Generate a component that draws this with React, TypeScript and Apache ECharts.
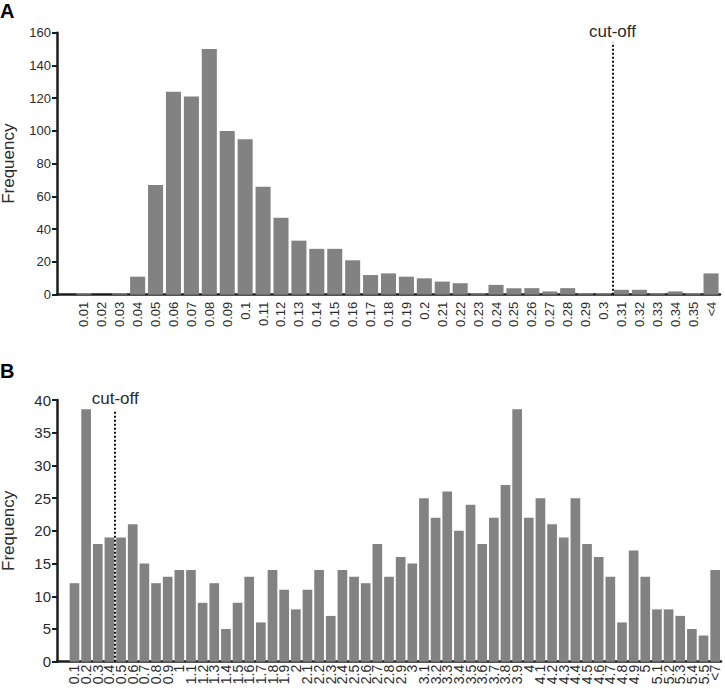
import React, { useEffect, useRef } from "react";
import * as echarts from "echarts";

const FONT = "'Liberation Sans', Arial, Helvetica, sans-serif";

// Panel A
const catsA = [
  "0.01", "0.02", "0.03", "0.04", "0.05", "0.06", "0.07", "0.08", "0.09", "0.1",
  "0.11", "0.12", "0.13", "0.14", "0.15", "0.16", "0.17", "0.18", "0.19", "0.2",
  "0.21", "0.22", "0.23", "0.24", "0.25", "0.26", "0.27", "0.28", "0.29", "0.3",
  "0.31", "0.32", "0.33", "0.34", "0.35", "<4",
];
const valsA = [
  1, 0, 1, 11, 67, 124, 121, 150, 100, 95,
  66, 47, 33, 28, 28, 21, 12, 13, 11, 10,
  8, 7, 1, 6, 4, 4, 2, 4, 1, 1,
  3, 3, 1, 2, 1, 13,
];
const yTicksA = { min: 0, max: 160, step: 20 };
// cut-off sits after "0.3" (band boundary after 30 categories + 1 leading blank)
const cutoffA = { afterCategory: "0.3", top: 154 };

// Panel B
const catsB = [
  "0.1", "0.2", "0.3", "0.4", "0.5", "0.6", "0.7", "0.8", "0.9", "1",
  "1.1", "1.2", "1.3", "1.4", "1.5", "1.6", "1.7", "1.8", "1.9", "2",
  "2.1", "2.2", "2.3", "2.4", "2.5", "2.6", "2.7", "2.8", "2.9", "3",
  "3.1", "3.2", "3.3", "3.4", "3.5", "3.6", "3.7", "3.8", "3.9", "4",
  "4.1", "4.2", "4.3", "4.4", "4.5", "4.6", "4.7", "4.8", "4.9", "5",
  "5.1", "5.2", "5.3", "5.4", "5.5", "<7",
];
const valsB = [
  12, 38.6, 18, 19, 19, 21, 15, 12, 13, 14,
  14, 9, 12, 5, 9, 13, 6, 14, 11, 8,
  11, 14, 7, 14, 13, 12, 18, 13, 16, 15,
  25, 22, 26, 20, 24, 18, 22, 27, 38.6, 22,
  25, 21, 19, 25, 18, 16, 13, 6, 17, 13,
  8, 8, 7, 5, 4, 14,
];
const yTicksB = { min: 0, max: 40, step: 5 };
const cutoffB = { afterCategory: "0.4", top: 38.5 };

const AXIS_COLOR = "#1c1c1c";
const TEXT_COLOR = "#2b2b2b";
const BAR_COLOR = "#828282";

function cutoffSeries(cats: string[], cut: { afterCategory: string; top: number }, xIdx: number, yIdx: number) {
  const pos = cats.indexOf(cut.afterCategory) + 2; // +1 leading blank band, +1 to reach band's right edge
  return {
    type: "line",
    xAxisIndex: xIdx,
    yAxisIndex: yIdx,
    data: [[pos, 0]],
    showSymbol: false,
    symbol: "none",
    lineStyle: { width: 0 },
    silent: true,
    markLine: {
      symbol: "none",
      silent: true,
      animation: false,
      lineStyle: { type: [2, 2], width: 2, color: "#111" },
      label: {
        show: true,
        position: "end",
        formatter: "cut-off",
        fontSize: 17,
        fontFamily: FONT,
        color: TEXT_COLOR,
        distance: 3,
      },
      data: [[{ coord: [pos, 0] }, { coord: [pos, cut.top] }]],
    },
  };
}

function yAxis(grid: number, t: { min: number; max: number; step: number }, labelSize: number) {
  return {
    type: "value",
    gridIndex: grid,
    min: t.min,
    max: t.max,
    interval: t.step,
    splitLine: { show: false },
    axisLine: { show: true, lineStyle: { color: AXIS_COLOR, width: 2.5 } },
    axisTick: { show: true, length: 5, lineStyle: { color: AXIS_COLOR, width: 2 } },
    axisLabel: { fontSize: labelSize, fontFamily: FONT, color: TEXT_COLOR, margin: 6 },
    name: "Frequency",
    nameLocation: "middle",
    nameGap: 40,
    nameTextStyle: { fontSize: 17, fontFamily: FONT, color: TEXT_COLOR },
  };
}

function catAxis(grid: number, cats: string[], labelSize: number, margin: number) {
  return {
    type: "category",
    gridIndex: grid,
    data: ["", ...cats],
    axisLine: { show: true, lineStyle: { color: AXIS_COLOR, width: 2.5 } },
    axisTick: { show: false },
    axisLabel: {
      rotate: 90,
      interval: 0,
      fontSize: labelSize,
      fontFamily: FONT,
      color: TEXT_COLOR,
      margin,
    },
  };
}

export default function App() {
  const ref = useRef<HTMLDivElement>(null);
  useEffect(() => {
    document.body.style.margin = "0";
    const chart = echarts.init(ref.current!, null, { renderer: "svg" });
    chart.setOption({
      animation: false,
      backgroundColor: "#ffffff",
      textStyle: { fontFamily: FONT },
      graphic: [
        { type: "text", left: 0, top: 1, style: { text: "A", font: `bold 20px ${FONT}`, fill: "#000" } },
        { type: "text", left: 0, top: 361, style: { text: "B", font: `bold 20px ${FONT}`, fill: "#000" } },
      ],
      grid: [
        { left: 57, right: 5, top: 32.7, height: 262, outerBoundsMode: "none", containLabel: false },
        { left: 57, right: 4, top: 400, height: 261.7, outerBoundsMode: "none", containLabel: false },
      ],
      xAxis: [
        catAxis(0, catsA, 13, 7),
        { type: "value", gridIndex: 0, min: 0, max: catsA.length + 1, show: false },
        catAxis(1, catsB, 14, 3),
        { type: "value", gridIndex: 1, min: 0, max: catsB.length + 1, show: false },
      ],
      yAxis: [yAxis(0, yTicksA, 13), yAxis(1, yTicksB, 15)],
      series: [
        {
          type: "bar",
          xAxisIndex: 0,
          yAxisIndex: 0,
          data: [null, ...valsA],
          barCategoryGap: "16%",
          itemStyle: { color: BAR_COLOR },
        },
        {
          type: "bar",
          xAxisIndex: 2,
          yAxisIndex: 1,
          data: [null, ...valsB],
          barCategoryGap: "17%",
          itemStyle: { color: BAR_COLOR },
        },
        cutoffSeries(catsA, cutoffA, 1, 0),
        cutoffSeries(catsB, cutoffB, 3, 1),
      ],
    });
    return () => chart.dispose();
  }, []);
  return <div ref={ref} style={{ width: 725, height: 689 }} />;
}
